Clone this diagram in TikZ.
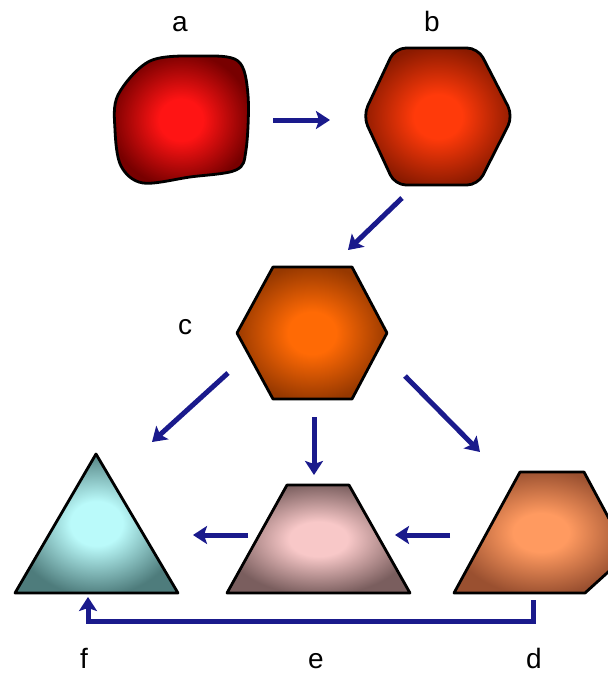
\documentclass[tikz,border=0pt]{standalone}
\usepackage{fontspec}
\setmainfont{Liberation Sans}
\usetikzlibrary{arrows.meta}
\definecolor{arrowblue}{HTML}{1A1A8C}
\definecolor{aIn}{HTML}{FF1414}\definecolor{aOut}{HTML}{780000}
\definecolor{bIn}{HTML}{FF3A0A}\definecolor{bOut}{HTML}{8A1A00}
\definecolor{cIn}{HTML}{FF6A05}\definecolor{cOut}{HTML}{963800}
\definecolor{dIn}{HTML}{FF9A60}\definecolor{dOut}{HTML}{9A5030}
\definecolor{eIn}{HTML}{F8C8C8}\definecolor{eOut}{HTML}{7A5E5E}
\definecolor{fIn}{HTML}{BAFAFA}\definecolor{fOut}{HTML}{4E7C7C}
\pgfdeclareradialshading{shA}{\pgfpoint{0bp}{0bp}}{color(0bp)=(aIn); color(8bp)=(aIn); color(26bp)=(aOut); color(50bp)=(aOut)}
\pgfdeclareradialshading{shB}{\pgfpoint{0bp}{0bp}}{color(0bp)=(bIn); color(8bp)=(bIn); color(26bp)=(bOut); color(50bp)=(bOut)}
\pgfdeclareradialshading{shC}{\pgfpoint{0bp}{0bp}}{color(0bp)=(cIn); color(8bp)=(cIn); color(26bp)=(cOut); color(50bp)=(cOut)}
\pgfdeclareradialshading{shD}{\pgfpoint{0bp}{0bp}}{color(0bp)=(dIn); color(8bp)=(dIn); color(26bp)=(dOut); color(50bp)=(dOut)}
\pgfdeclareradialshading{shE}{\pgfpoint{0bp}{0bp}}{color(0bp)=(eIn); color(8bp)=(eIn); color(26bp)=(eOut); color(50bp)=(eOut)}
\pgfdeclareradialshading{shF}{\pgfpoint{0bp}{0bp}}{color(0bp)=(fIn); color(8bp)=(fIn); color(26bp)=(fOut); color(50bp)=(fOut)}
\tikzset{
  shapeline/.style={draw=black, line width=2.8, line join=round},
  conn/.style={draw=arrowblue, line width=5, -{Stealth[length=14pt,width=18pt,inset=3pt]}},
  lbl/.style={font=\fontsize{28}{32}\selectfont, text=black, inner sep=0pt, anchor=base}
}
\begin{document}
\begin{tikzpicture}[x=1pt,y=-1pt]
\useasboundingbox (0,0) rectangle (608,681);
\begin{scope}
\clip (0,0) rectangle (608,681);
% a
\path[shapeline, shading=shA] plot[smooth cycle, tension=0.55] coordinates
  {(118,95) (150,61) (200,56) (238,61) (248,95) (246,150) (236,170) (190,177) (143,183) (121,166) (115,130)};
% b
\path[shapeline, shading=shB, rounded corners=11] (363,116) -- (395,48) -- (478,48) -- (513,116) -- (478,185) -- (395,185) -- cycle;
% c
\path[shapeline, shading=shC] (237,333) -- (273,267) -- (352,267) -- (387,333) -- (352,399) -- (273,399) -- cycle;
% f
\path[shapeline, shading=shF] (96,454) -- (178,593) -- (15,593) -- cycle;
% e
\path[shapeline, shading=shE] (287,485) -- (349,485) -- (410,593) -- (227,593) -- cycle;
% d
\path[shapeline, shading=shD] (454,593) -- (520,472) -- (584,472) -- (628,554) -- (585,593) -- cycle;
\end{scope}
% labels
\node[lbl] (la) at (180,31) {a};
\node[lbl] (lb) at (432,31) {b};
\node[lbl] (lc) at (185,334) {c};
\node[lbl] (lf) at (84,668) {f};
\node[lbl] (le) at (316,668) {e};
\node[lbl] (ld) at (534,668) {d};
% connector ends
\coordinate (ab1) at (273,120); \coordinate (ab2) at (330,120);
\coordinate (bc1) at (402,198); \coordinate (bc2) at (348,250);
\coordinate (cf1) at (228,373); \coordinate (cf2) at (152,442);
\coordinate (ce1) at (314,417); \coordinate (ce2) at (314,475);
\coordinate (cd1) at (405,376); \coordinate (cd2) at (480,452);
\coordinate (de1) at (450,535); \coordinate (de2) at (395,535);
\coordinate (ef1) at (248,535); \coordinate (ef2) at (193,535);
\coordinate (df1) at (533,600); \coordinate (df2) at (88,597);
\draw[conn] (ab1) -- (ab2);
\draw[conn] (bc1) -- (bc2);
\draw[conn] (cf1) -- (cf2);
\draw[conn] (ce1) -- (ce2);
\draw[conn] (cd1) -- (cd2);
\draw[conn] (de1) -- (de2);
\draw[conn] (ef1) -- (ef2);
\draw[conn, line join=miter] (df1) -- (533,621) -- (88,621) -- (df2);
\end{tikzpicture}
\end{document}
